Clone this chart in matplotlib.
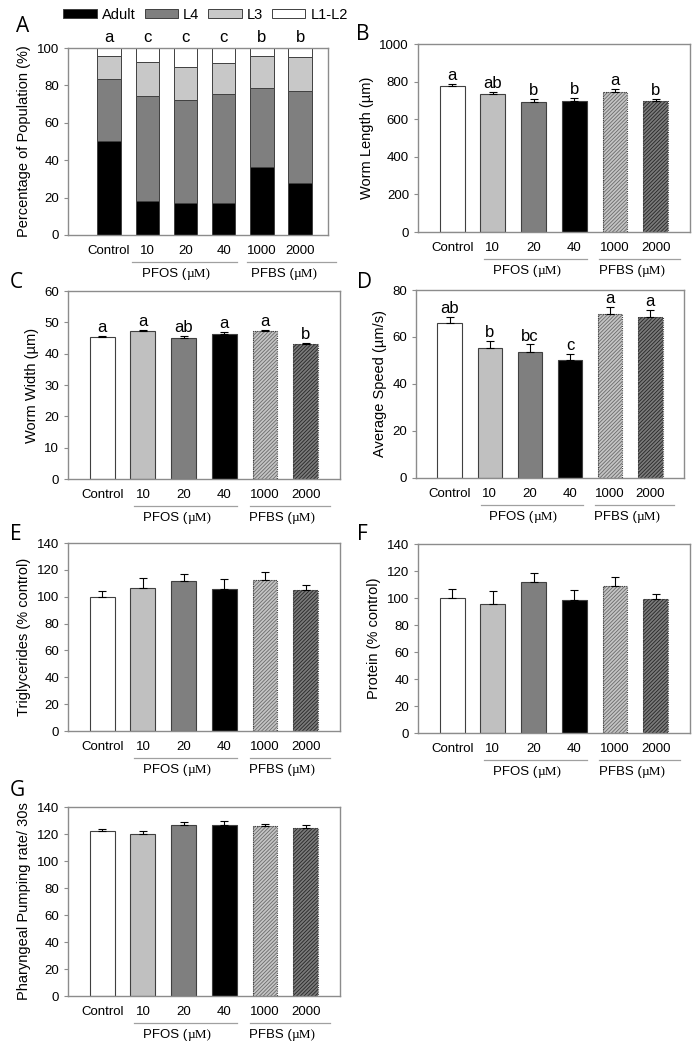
import numpy as np
import matplotlib.pyplot as plt
import matplotlib.transforms as mtransforms
from matplotlib.patches import Patch

plt.rcParams['font.family'] = ['Liberation Sans', 'DejaVu Sans']
plt.rcParams['hatch.linewidth'] = 0.6

groups = ['Control', '10', '20', '40', '1000', '2000']

# panel A, stacked percentages
adult = [50.5, 18, 17, 17, 36.5, 27.8]
l4 = [33, 56.5, 55, 58.3, 42.2, 49.1]
l3 = [12.5, 17.8, 17.8, 16.5, 16.9, 18.4]
l1_l2 = [4, 7.7, 10.2, 8.2, 4.4, 4.7]
letters_a = ['a', 'c', 'c', 'c', 'b', 'b']

length = [775, 733, 694, 697, 745, 697]
length_err = [13, 12, 14, 14, 14, 13]
letters_b = ['a', 'ab', 'b', 'b', 'a', 'b']

width = [45.3, 47.2, 45.0, 46.4, 47.1, 43.0]
width_err = [0.5, 0.5, 0.7, 0.6, 0.6, 0.5]
letters_c = ['a', 'a', 'ab', 'a', 'a', 'b']

speed = [65.8, 55.5, 53.8, 50.0, 69.7, 68.4]
speed_err = [2.9, 2.9, 3.1, 2.8, 3.2, 3.1]
letters_d = ['ab', 'b', 'bc', 'c', 'a', 'a']

trig = [100, 106.8, 111.7, 105.8, 112.7, 104.8]
trig_err = [4.3, 7.5, 5.5, 7.7, 5.8, 3.7]

protein = [100, 95.5, 112, 98.5, 108.9, 99.3]
protein_err = [6.7, 9.5, 6.2, 7.8, 7.0, 4.0]

pumping = [122, 120.2, 126.5, 127, 126.1, 124.2]
pumping_err = [2.0, 1.8, 2.1, 2.6, 1.2, 2.2]

fills = ['white', '#c0c0c0', '#7f7f7f', 'black', '#c4c4c4', '#7a7a7a']
hatches = [None, None, None, None, '/////////', '/////////']
hatch_cols = [None, None, None, None, '#6a6a6a', '#262626']
frame_col = '#8c8c8c'
edge_col = '#404040'

fig = plt.figure(figsize=(6.97, 10.5), dpi=100)


def style_axes(ax, ylim, yticks, ylabel, spans):
    for s in ax.spines.values():
        s.set_color(frame_col)
        s.set_linewidth(1.0)
    ax.set_ylim(*ylim)
    ax.set_yticks(yticks)
    ax.set_xticks(range(6))
    ax.set_xticklabels(groups, fontsize=9.5)
    ax.tick_params(axis='x', length=0, pad=7)
    ax.tick_params(axis='y', direction='out', length=3, color=frame_col, labelsize=9.5)
    ax.set_ylabel(ylabel, fontsize=10.5)
    # group lines and labels under the tick labels
    tr = mtransforms.blended_transform_factory(ax.transData, ax.transAxes)
    for (x0, x1), lab in zip(spans, ['PFOS', 'PFBS']):
        ax.plot([x0, x1], [-0.142, -0.142], color='#a0a0a0', lw=0.9,
                transform=tr, clip_on=False)
        ax.text((x0 + x1) / 2 + 0.05, -0.175, lab + ' (', transform=tr, ha='right',
                va='top', fontsize=9.5)
        ax.text((x0 + x1) / 2 + 0.05, -0.175, '\u00b5M)', transform=tr, ha='left',
                va='top', fontsize=9.5, family='Liberation Serif')


def bar_panel(rect, vals, errs, ylim, yticks, ylabel, letters=None, lpad=0):
    ax = fig.add_axes(rect)
    x = np.arange(6)
    for i in range(6):
        if hatches[i]:
            ax.bar(x[i], vals[i], 0.61, color=fills[i], hatch=hatches[i],
                   edgecolor=hatch_cols[i], linewidth=0)
            ax.bar(x[i], vals[i], 0.61, fill=False, edgecolor=edge_col,
                   linewidth=0.8, linestyle=(0, (1, 1)))
        else:
            ax.bar(x[i], vals[i], 0.61, color=fills[i], edgecolor=edge_col,
                   linewidth=0.8)
    ax.errorbar(x, vals, yerr=[np.zeros(6), errs], fmt='none', ecolor='black',
                elinewidth=0.8, capsize=3, capthick=0.8)
    if letters:
        for i in range(6):
            ax.text(x[i], vals[i] + errs[i] + lpad, letters[i], ha='center',
                    va='bottom', fontsize=12)
    ax.set_xlim(-0.84, 5.84)
    style_axes(ax, ylim, yticks, ylabel, [(0.77, 3.32), (3.62, 5.6)])
    return ax


# A
axA = fig.add_axes([0.0976, 0.7762, 0.373, 0.178])
xa = np.arange(6)
bottom = np.zeros(6)
for vals, col, lab in [(adult, 'black', 'Adult'), (l4, '#7f7f7f', 'L4'),
                       (l3, '#c8c8c8', 'L3'), (l1_l2, 'white', 'L1-L2')]:
    axA.bar(xa, vals, 0.61, bottom=bottom, color=col, edgecolor=edge_col,
            linewidth=0.7, label=lab)
    bottom = bottom + np.array(vals)
for i in range(6):
    axA.text(xa[i], 101.5, letters_a[i], ha='center', va='bottom', fontsize=12)
axA.set_xlim(-1.07, 5.73)
style_axes(axA, (0, 100), range(0, 101, 20), 'Percentage of Population (%)',
           [(0.6, 3.34), (3.6, 5.95)])
handles = [Patch(facecolor=c, edgecolor=edge_col, linewidth=0.7)
           for c in ['black', '#7f7f7f', '#c8c8c8', 'white']]
fig.legend(handles, ['Adult', 'L4', 'L3', 'L1-L2'], loc='center',
           bbox_to_anchor=(0.295, 0.986), ncol=4, frameon=False, fontsize=10.5,
           handlelength=2.3, handleheight=0.55, columnspacing=0.6,
           handletextpad=0.35)

bar_panel([0.5997, 0.779, 0.390, 0.179], length, length_err, (0, 1000),
          range(0, 1001, 200), 'Worm Length (\u00b5m)', letters_b, 5)
bar_panel([0.0976, 0.5438, 0.390, 0.179], width, width_err, (0, 60),
          range(0, 61, 10), 'Worm Width (\u00b5m)', letters_c, 0.3)
bar_panel([0.5968, 0.5448, 0.3845, 0.179], speed, speed_err, (0, 80),
          range(0, 81, 20), 'Average Speed (\u00b5m/s)', letters_d, 0.3)
bar_panel([0.0976, 0.3038, 0.390, 0.179], trig, trig_err, (0, 140),
          range(0, 141, 20), 'Triglycerides (% control)')
bar_panel([0.5997, 0.3019, 0.390, 0.18], protein, protein_err, (0, 140),
          range(0, 141, 20), 'Protein (% control)')
bar_panel([0.0976, 0.0514, 0.390, 0.18], pumping, pumping_err, (0, 140),
          range(0, 141, 20), 'Pharyngeal Pumping rate/ 30s')

for lab, px, py in [('A', 16, 26), ('B', 356, 35), ('C', 10, 283), ('D', 357, 282),
                    ('E', 10, 535), ('F', 357, 535), ('G', 10, 790)]:
    fig.text(px / 697, 1 - py / 1050, lab, fontsize=15, family='Open Sans',
             va='center', ha='left')

fig.savefig('out.png', dpi=100)
